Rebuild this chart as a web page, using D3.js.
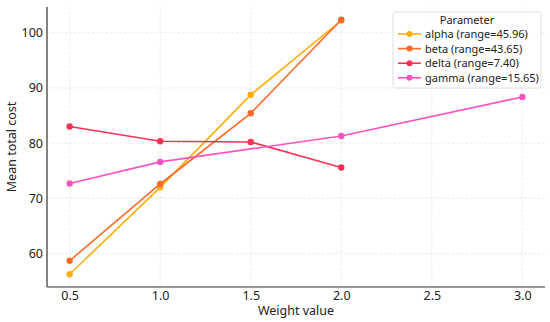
<!DOCTYPE html>
<html lang="en">
<head>
    <meta charset="UTF-8">
    <title>Mean total cost by weight value</title>
    <script src="https://d3js.org/d3.v7.min.js"></script>
    <style>
        body { margin: 0; background: #fff; }
        svg { display: block; font-family: "Noto Sans", sans-serif; }
        .grid line { stroke: #e4e4e4; stroke-dasharray: 2.5,2; stroke-width: 0.8; }
        .axis path { stroke: #333; stroke-width: 1.2; }
        .axis text { fill: #222; font-size: 12.5px; font-family: "Noto Sans", sans-serif; }
    </style>
</head>
<body>
<script>
    // Data
    const weights = [0.5, 1.0, 1.5, 2.0, 3.0];
    const xTicks = [0.5, 1.0, 1.5, 2.0, 2.5, 3.0];
    const yTicks = [60, 70, 80, 90, 100];

    const alphaX = [0.5, 1.0, 1.5, 2.0];
    const alphaY = [56.25, 72.0, 88.75, 102.21];
    const betaX = [0.5, 1.0, 1.5, 2.0];
    const betaY = [58.7, 72.6, 85.4, 102.35];
    const deltaX = [0.5, 1.0, 1.5, 2.0];
    const deltaY = [83.0, 80.35, 80.2, 75.6];
    const gammaX = [0.5, 1.0, 2.0, 3.0];
    const gammaY = [72.7, 76.6, 81.3, 88.35];

    const seriesNames = ["alpha (range=45.96)", "beta (range=43.65)", "delta (range=7.40)", "gamma (range=15.65)"];
    const colors = ["#ffad0d", "#ff6a26", "#ff3055", "#ff52be"];

    const series = [
        {name: seriesNames[0], color: colors[0], pts: alphaX.map((x, i) => [x, alphaY[i]])},
        {name: seriesNames[1], color: colors[1], pts: betaX.map((x, i) => [x, betaY[i]])},
        {name: seriesNames[2], color: colors[2], pts: deltaX.map((x, i) => [x, deltaY[i]])},
        {name: seriesNames[3], color: colors[3], pts: gammaX.map((x, i) => [x, gammaY[i]])}
    ];

    const width = 550, height = 322;
    const margin = {left: 47, right: 5, top: 7, bottom: 35};

    const svg = d3.select("body").append("svg")
        .attr("width", width)
        .attr("height", height);

    // matplotlib-style 5% padding around the data
    const allY = series.flatMap(s => s.pts.map(p => p[1]));
    const yMin = d3.min(allY), yMax = d3.max(allY);
    const yPad = (yMax - yMin) * 0.05;
    const xMin = d3.min(weights), xMax = d3.max(weights);
    const xPad = (xMax - xMin) * 0.05;

    const x = d3.scaleLinear()
        .domain([xMin - xPad, xMax + xPad])
        .range([margin.left, width - margin.right]);
    const y = d3.scaleLinear()
        .domain([yMin - yPad, yMax + yPad])
        .range([height - margin.bottom, margin.top]);

    // grid
    const grid = svg.append("g").attr("class", "grid");
    grid.selectAll(".gx").data(xTicks).enter().append("line")
        .attr("x1", d => x(d)).attr("x2", d => x(d))
        .attr("y1", margin.top).attr("y2", height - margin.bottom);
    grid.selectAll(".gy").data(yTicks).enter().append("line")
        .attr("x1", margin.left).attr("x2", width - margin.right)
        .attr("y1", d => y(d)).attr("y2", d => y(d));

    // axes
    svg.append("g")
        .attr("class", "axis")
        .attr("transform", `translate(0,${height - margin.bottom})`)
        .call(d3.axisBottom(x).tickValues(xTicks).tickFormat(d3.format(".1f")).tickSize(0).tickPadding(4))
        .call(g => g.select(".domain").attr("d", `M${margin.left},0H${width - margin.right}`));

    svg.append("g")
        .attr("class", "axis")
        .attr("transform", `translate(${margin.left},0)`)
        .call(d3.axisLeft(y).tickValues(yTicks).tickSize(0).tickPadding(4))
        .call(g => g.select(".domain").attr("d", `M0,${margin.top}V${height - margin.bottom}`));

    // axis labels
    svg.append("text")
        .attr("x", (margin.left + width - margin.right) / 2)
        .attr("y", 314.5)
        .attr("text-anchor", "middle")
        .attr("font-size", 12.5)
        .attr("fill", "#222")
        .text("Weight value");

    svg.append("text")
        .attr("transform", `translate(16,${(margin.top + height - margin.bottom) / 2}) rotate(-90)`)
        .attr("text-anchor", "middle")
        .attr("font-size", 12.5)
        .attr("fill", "#222")
        .text("Mean total cost");

    // lines and markers
    const line = d3.line().x(d => x(d[0])).y(d => y(d[1]));
    series.forEach(s => {
        svg.append("path")
            .attr("d", line(s.pts))
            .attr("fill", "none")
            .attr("stroke", s.color)
            .attr("stroke-width", 1.6);
        svg.selectAll(null).data(s.pts).enter().append("circle")
            .attr("cx", d => x(d[0]))
            .attr("cy", d => y(d[1]))
            .attr("r", 3.2)
            .attr("fill", s.color);
    });

    // legend
    const lg = svg.append("g").attr("transform", "translate(393,12)");
    lg.append("rect")
        .attr("width", 148).attr("height", 76).attr("rx", 2)
        .attr("fill", "#fff").attr("fill-opacity", 0.85)
        .attr("stroke", "#d8d8d8").attr("stroke-width", 0.8);
    lg.append("text")
        .attr("x", 74).attr("y", 12)
        .attr("text-anchor", "middle")
        .attr("font-size", 11).attr("fill", "#222")
        .text("Parameter");
    series.forEach((s, i) => {
        const yy = 22 + i * 14.6;
        lg.append("line")
            .attr("x1", 5).attr("x2", 28).attr("y1", yy).attr("y2", yy)
            .attr("stroke", s.color).attr("stroke-width", 1.6);
        lg.append("circle").attr("cx", 16.5).attr("cy", yy).attr("r", 3).attr("fill", s.color);
        lg.append("text")
            .attr("x", 32).attr("y", yy + 4)
            .attr("font-size", 11).attr("fill", "#222")
            .text(s.name);
    });
</script>
</body>
</html>
